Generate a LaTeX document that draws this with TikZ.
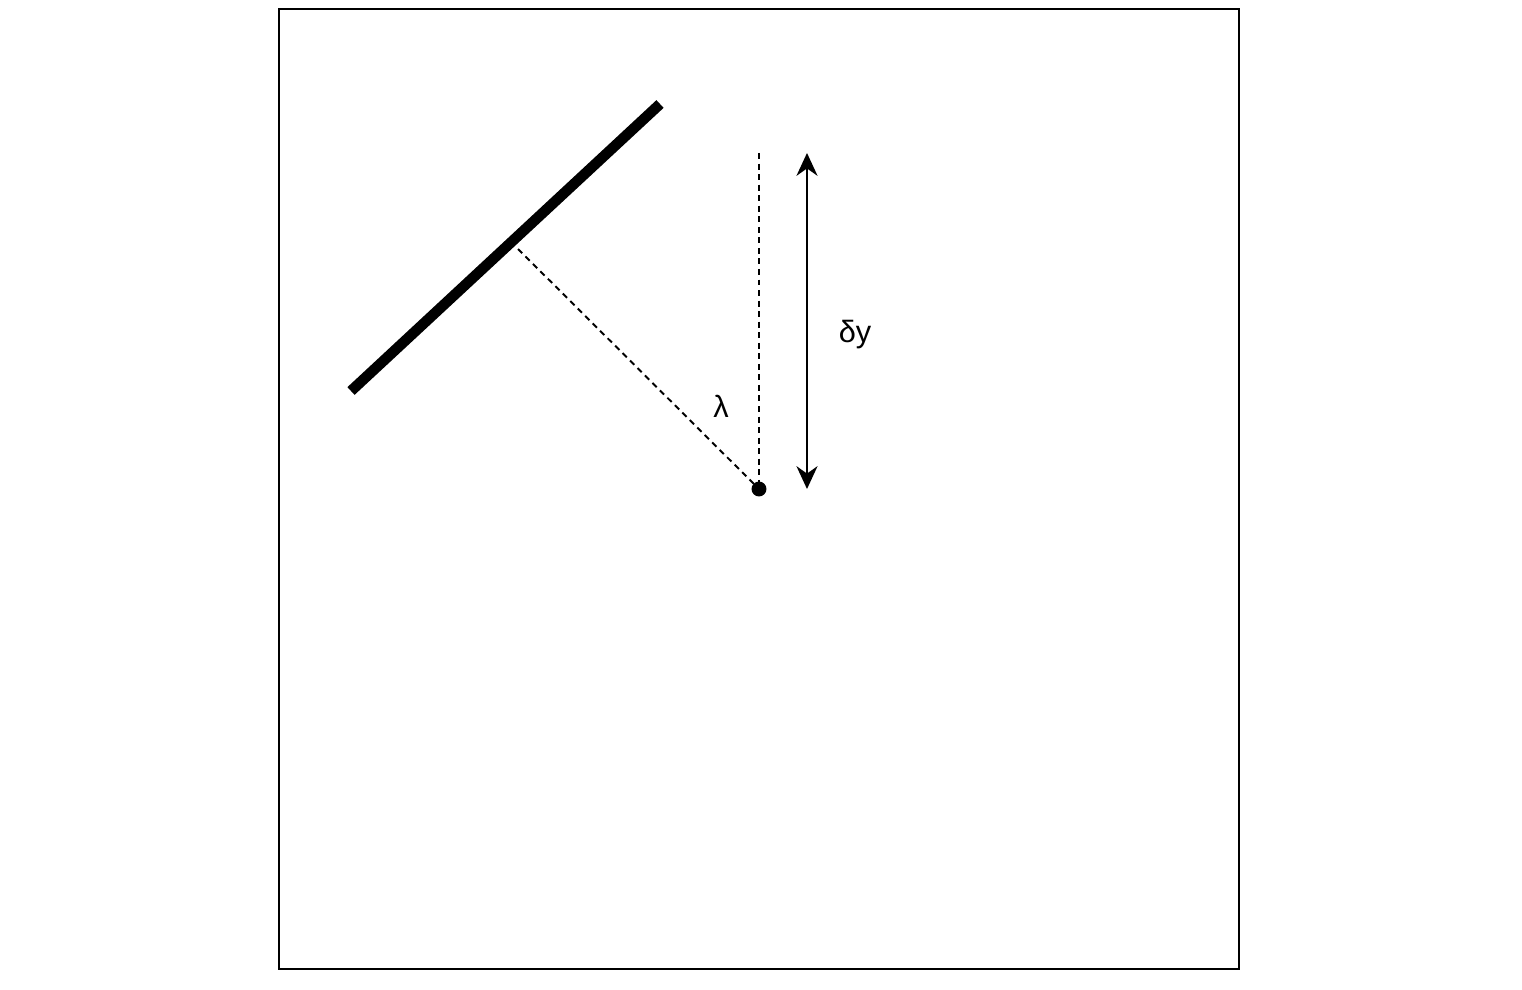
\documentclass[tikz,border=0pt]{standalone}
\usepackage{fontspec}
\setmainfont{Liberation Sans}
\usetikzlibrary{arrows.meta}
\begin{document}
\begin{tikzpicture}[x=0.02cm,y=-0.02cm,
  frame/.style={line width=1.1pt},
  plate/.style={line width=6pt},
  guide/.style={line width=1.1pt,dash pattern=on 3.4pt off 2.6pt},
  dim/.style={line width=1.1pt,{Stealth[length=13pt,width=12pt]}-{Stealth[length=13pt,width=12pt]}},
  lbl/.style={font=\fontsize{17.5}{20}\selectfont,inner sep=0pt}]
\useasboundingbox (0,0) rectangle (1522,990);
\draw[frame] (279,9) rectangle (1239,969);
\coordinate (pa) at (351,391);
\coordinate (pb) at (660,104);
\coordinate (foot) at (518,249);
\coordinate (top) at (759,153);
\coordinate (atop) at (807,153);
\coordinate (abot) at (807,489);
\node[circle,fill,inner sep=0pt,minimum size=8.5pt] (pt) at (759,489) {};
\draw[plate] (pa) -- (pb);
\draw[guide] (foot) -- (pt.center);
\draw[guide] (top) -- (pt.center);
\draw[dim] (atop) -- (abot);
\node[lbl] (lam) at (721,406) {λ};
\node[lbl] (dy) at (855,335) {δy};
\end{tikzpicture}
\end{document}
